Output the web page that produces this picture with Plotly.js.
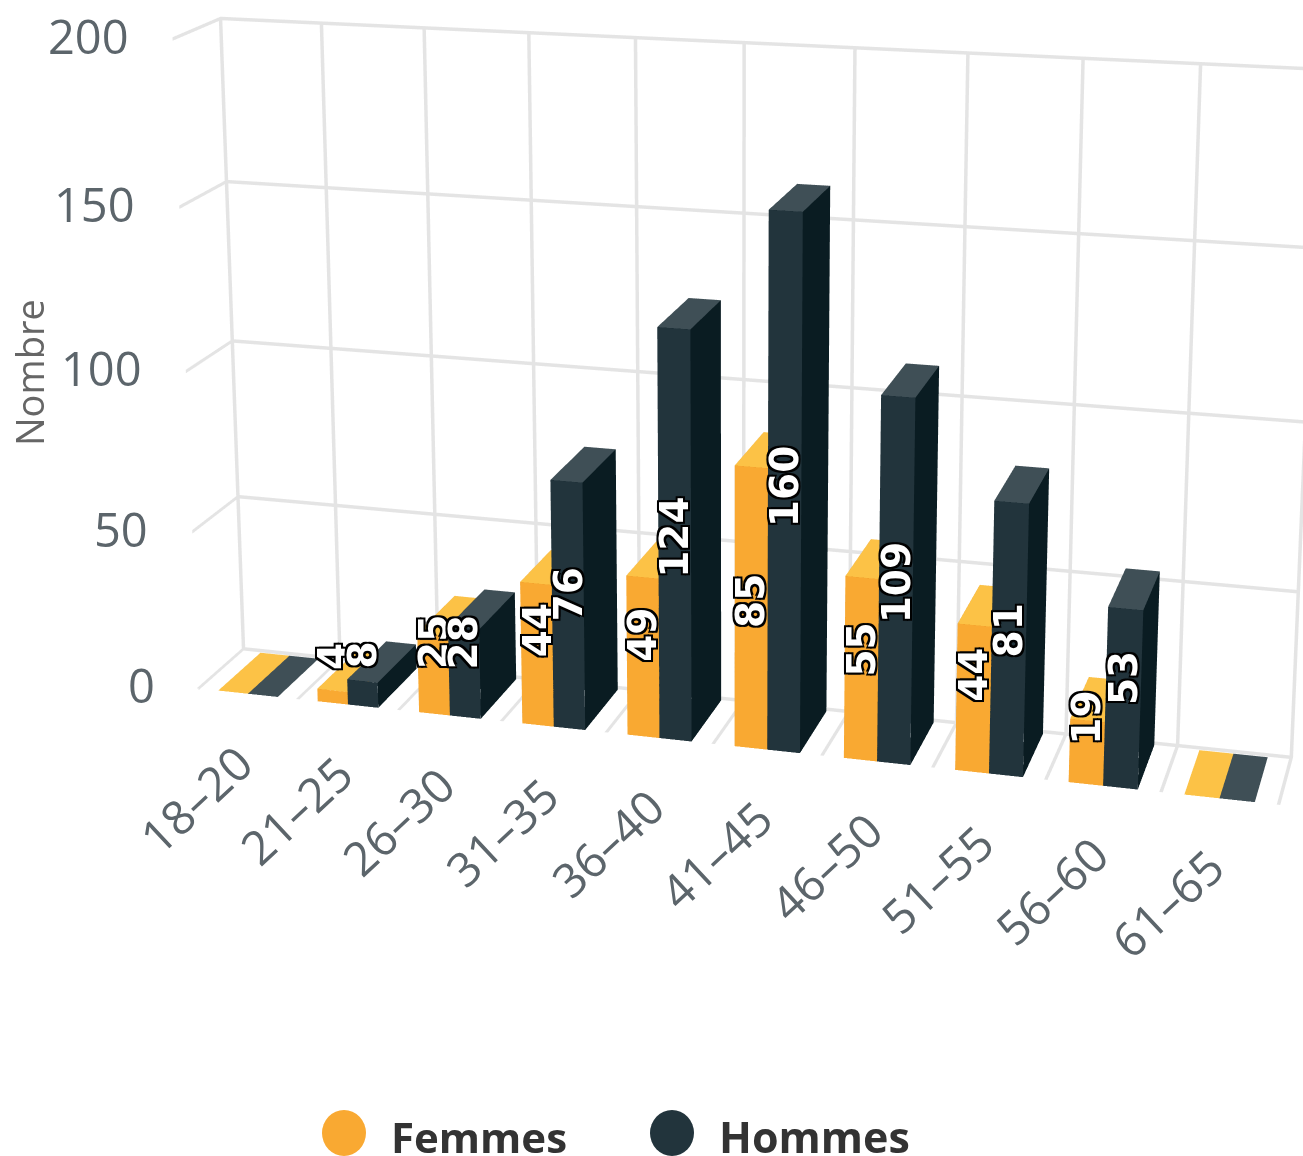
<!DOCTYPE html>
<html><head><meta charset="utf-8">
<script src="https://cdn.plot.ly/plotly-3.0.1.min.js"></script>
<style>html,body{margin:0;padding:0;width:1303px;height:1156px;overflow:hidden;background:#fff}
#wrap{position:absolute;left:0;top:0;width:1303px;height:1156px;overflow:hidden}
#chart{position:absolute;left:-782px;top:-1159px;width:2781px;height:2781px}</style>
</head><body><div id="wrap"><div id="chart"></div></div>
<script>
const categories=['18–20','21–25','26–30','31–35','36–40','41–45','46–50','51–55','56–60','61–65'];
const femmes=[0,4,25,44,49,85,55,44,19,0];
const hommes=[0,8,28,76,124,160,109,81,53,0];
const zTicks=[0,50,100,150,200];
const DIV={l:-782,t:-1159,w:2781,h:2781};
const px=x=>(x-DIV.l)/DIV.w, py=y=>1-(y-DIV.t)/DIV.h;
const BW=0.3, D0=0.0, D1=0.95;
function bars(vals,offset,name,cTop,cFront,cSide){
  const x=[],y=[],z=[],i=[],j=[],k=[],fc=[];
  function quad(a,b,c,d,col){i.push(a,a);j.push(b,c);k.push(c,d);fc.push(col,col);}
  vals.forEach((v,n)=>{
    const b=x.length,x0=n+offset,x1=x0+BW;
    [[x0,D0,0],[x1,D0,0],[x1,D1,0],[x0,D1,0],[x0,D0,v],[x1,D0,v],[x1,D1,v],[x0,D1,v]].forEach(p=>{x.push(p[0]);y.push(p[1]);z.push(p[2]);});
    quad(b+4,b+5,b+6,b+7,cTop);
    if(v>0){quad(b,b+1,b+5,b+4,cFront);quad(b+1,b+2,b+6,b+5,cSide);quad(b,b+3,b+7,b+4,cSide);quad(b+3,b+2,b+6,b+7,cSide);}
  });
  return {type:'mesh3d',name,x,y,z,i,j,k,facecolor:fc,flatshading:true,hoverinfo:'skip',showscale:false,
    lighting:{ambient:1,diffuse:0,specular:0,roughness:1,fresnel:0},lightposition:{x:0,y:0,z:1000}};
}
const labelFont={family:'"DejaVu Sans",sans-serif',size:39,color:'#fff',weight:700,
  shadow:'-2px -2px 0 #000,2px -2px 0 #000,-2px 2px 0 #000,2px 2px 0 #000,0 0 3px #000'};
const sceneAnn=[];
function dataLabels(vals,offset){vals.forEach((v,n)=>{if(v>0)sceneAnn.push({x:n+offset+BW/2,y:D0,z:v/2,text:String(v),textangle:-90,showarrow:false,
  font:labelFont,yshift:42*Math.max(0,1-v/105),xanchor:'center',yanchor:'middle'});});}
dataLabels(femmes,-0.3);dataLabels(hommes,0);
const tickFont={family:'"Open Sans",sans-serif',size:47,color:'#5c656b'};
categories.forEach((c,n)=>sceneAnn.push({x:n,y:0,z:0,text:c,textangle:-43,showarrow:false,font:tickFont,xshift:-52,yshift:-105,xanchor:'center',yanchor:'middle'}));
zTicks.forEach(t=>sceneAnn.push({x:-0.5,y:0,z:t,text:String(t),showarrow:false,font:tickFont,xanchor:'right',xshift:-42,yshift:3,yanchor:'middle'}));
const axBase={autorange:false,showbackground:false,showspikes:false,zeroline:false,showticklabels:false,ticks:'',showline:false,title:{text:''},gridcolor:'#e4e4e4',gridwidth:7};
const midFont=(size,weight,color)=>({family:'"Open Sans",sans-serif',size,weight,color});
const layout={width:DIV.w,height:DIV.h,margin:{l:0,r:0,t:0,b:0,pad:0},paper_bgcolor:'#fff',showlegend:false,
 scene:{domain:{x:[0,1],y:[0,1]},aspectmode:'manual',aspectratio:{x:1,y:0.10804,z:0.61877},
  camera:{projection:{type:'perspective'},center:{x:-0.17176,y:0.20161,z:0.0923},up:{x:-0.0607,y:0.2292,z:0.9715},eye:{x:0.73576,y:-2.77183,z:0.85038}},
  xaxis:Object.assign({},axBase,{range:[-0.5,9.5],tickmode:'array',tickvals:categories.map((c,n)=>n-0.5).concat([9.5])}),
  yaxis:Object.assign({},axBase,{range:[0,1],showgrid:false,tickmode:'array',tickvals:[]}),
  zaxis:Object.assign({},axBase,{range:[0,200],tickmode:'array',tickvals:zTicks}),
  annotations:sceneAnn},
 annotations:[
  {xref:'paper',yref:'paper',x:px(29),y:py(373),xanchor:'center',yanchor:'middle',text:'Nombre',textangle:-90,showarrow:false,font:midFont(38,400,'#666')},
  {xref:'paper',yref:'paper',x:px(389),y:py(1136),xanchor:'left',yanchor:'middle',text:'Femmes',showarrow:false,font:midFont(42,700,'#333')},
  {xref:'paper',yref:'paper',x:px(717),y:py(1136),xanchor:'left',yanchor:'middle',text:'Hommes',showarrow:false,font:midFont(43,700,'#333')}],
 shapes:[
  {type:'circle',xref:'paper',yref:'paper',x0:px(322),x1:px(366),y0:py(1110),y1:py(1156),fillcolor:'#f9a932',line:{width:0}},
  {type:'circle',xref:'paper',yref:'paper',x0:px(650),x1:px(694),y0:py(1110),y1:py(1156),fillcolor:'#22343c',line:{width:0}}]
};
Plotly.newPlot('chart',[bars(femmes,-0.3,'Femmes','#fcc246','#f9a932','#d98c1e'),bars(hommes,0,'Hommes','#3f4f56','#22343c','#0a1c22')],layout,{displayModeBar:false});
</script></body></html>
